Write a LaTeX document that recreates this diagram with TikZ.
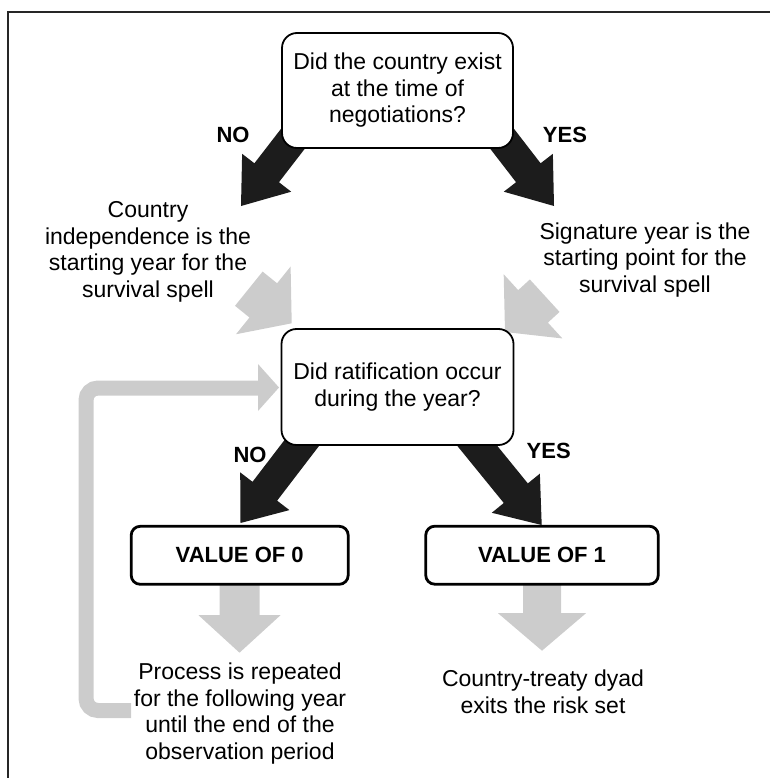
\documentclass[tikz,border=0pt]{standalone}
\usepackage{fontspec}
\setmainfont{Liberation Sans}
\usetikzlibrary{calc}
\definecolor{arrblack}{HTML}{1C1C1C}
\definecolor{arrgray}{HTML}{CCCCCC}
\newcommand{\mkblockarrow}[6]{%
  \coordinate (bah) at ($(#3)!#6!(#2)$);
  \fill[#1] ($(#2)!#4!90:(#3)$) -- ($(bah)!#4!90:(#3)$) -- ($(bah)!#5!90:(#3)$) -- (#3)
    -- ($(bah)!#5!-90:(#3)$) -- ($(bah)!#4!-90:(#3)$) -- ($(#2)!#4!-90:(#3)$) -- cycle;}
\tikzset{
  qbox/.style={draw, line width=1.8pt, rounded corners=15pt, fill=white, align=center,
    inner sep=0pt, font=\fontsize{23}{26.5}\selectfont},
  vbox/.style={draw, line width=2.8pt, rounded corners=9pt, fill=white, align=center,
    inner sep=0pt, minimum height=58pt, font=\fontsize{22}{26}\selectfont\bfseries},
  txt/.style={align=center, inner sep=0pt, font=\fontsize{23}{26.6}\selectfont},
  lbl/.style={inner sep=0pt, font=\fontsize{22}{26}\selectfont\bfseries},
  blackarr/.style={fill=arrblack},
  grayarr/.style={fill=arrgray},
  loopline/.style={draw=arrgray, line width=15pt, rounded corners=12pt}
}
\begin{document}
\begin{tikzpicture}[x=1pt,y=-1pt]
\useasboundingbox (0,0) rectangle (770,778);
% frame
\draw[line width=1.5pt, black!85] (8,778) -- (8,12) -- (770,12);

% node positions
\coordinate (q1c) at (397.5,90.5);
\coordinate (q2c) at (397.5,387);

% arrow coordinates
\coordinate (a1s) at (302,127);   \coordinate (a1t) at (241,206);
\coordinate (a2s) at (493,127);   \coordinate (a2t) at (554,206);
\coordinate (a3s) at (314,427);   \coordinate (a3t) at (240.5,523);
\coordinate (a4s) at (466,432);   \coordinate (a4t) at (541.7,525);
\coordinate (g1s) at (248.8,288.7); \coordinate (g1t) at (291.7,323.3);
\coordinate (g2s) at (544.7,295.7); \coordinate (g2t) at (505,332);
\coordinate (g3s) at (239.5,578);   \coordinate (g3t) at (239.5,652.7);
\coordinate (g4s) at (542,578);     \coordinate (g4t) at (542,650.7);
\coordinate (loopstart) at (131,710.5);

% loop connector
\draw[loopline] (loopstart) -- (86,710.5) -- (86,388) -- (260,388);
\coordinate (looptip) at (279,387.5);
\fill[arrgray] (258,364) -- (looptip) -- (258,411) -- cycle;

% block arrows
\mkblockarrow{blackarr}{a1s}{a1t}{15.5pt}{31pt}{42pt}
\mkblockarrow{blackarr}{a2s}{a2t}{15.5pt}{31pt}{42pt}
\mkblockarrow{blackarr}{a3s}{a3t}{15.5pt}{31pt}{40pt}
\mkblockarrow{blackarr}{a4s}{a4t}{15.5pt}{31pt}{41pt}
\mkblockarrow{grayarr}{g1s}{g1t}{22pt}{43.5pt}{36.5pt}
\mkblockarrow{grayarr}{g2s}{g2t}{22pt}{43.5pt}{38pt}
\mkblockarrow{grayarr}{g3s}{g3t}{20pt}{41pt}{37.5pt}
\mkblockarrow{grayarr}{g4s}{g4t}{19pt}{44pt}{37.5pt}

% boxes
\node[qbox, minimum width=231pt, minimum height=115pt] (q1) at (q1c)
  {Did the country exist\\at the time of\\negotiations?};
\node[qbox, minimum width=232pt, minimum height=116pt] (q2) at (q2c)
  {Did ratification occur\\during the year?};
\node[vbox, minimum width=217pt] (v0) at (239.7,555.3) {VALUE OF 0};
\node[vbox, minimum width=232.5pt] (v1) at (542,555.2) {VALUE OF 1};

% texts
\node[txt] (tl) at (148,252) {Country\\independence is the\\starting year for the\\survival spell};
\node[txt] (tr) at (645,260) {Signature year is the\\starting point for the\\survival spell};
\node[txt] (bl) at (240,713.5) {Process is repeated\\for the following year\\until the end of the\\observation period};
\node[txt] (br) at (543,692) {Country-treaty dyad\\exits the risk set};

% labels
\node[lbl] (no1) at (233,135) {NO};
\node[lbl] (yes1) at (565,135) {YES};
\node[lbl] (no2) at (250,455) {NO};
\node[lbl] (yes2) at (548.7,451) {YES};
\end{tikzpicture}
\end{document}
